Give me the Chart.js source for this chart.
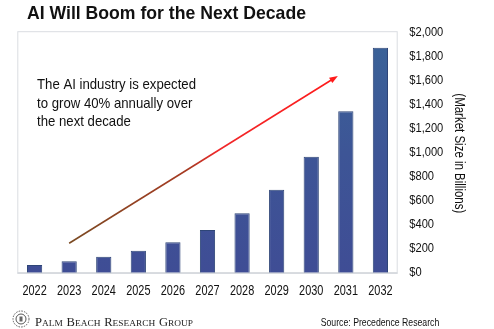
<!DOCTYPE html>
<html>
<head>
<meta charset="utf-8">
<script src="https://cdn.jsdelivr.net/npm/chart.js@4/dist/chart.umd.min.js"></script>
<style>
html,body{margin:0;padding:0;background:#fff;}
#wrap{position:relative;width:494px;height:329px;}
</style>
</head>
<body>
<div id="wrap"><canvas id="c" width="494" height="329"></canvas></div>
<script>
const years = ['2022','2023','2024','2025','2026','2027','2028','2029','2030','2031','2032'];
const marketSize = [64, 95, 133, 183, 253, 356, 495, 692, 967, 1345, 1875];
const yTicks = [0,200,400,600,800,1000,1200,1400,1600,1800,2000];
const titleText = 'AI Will Boom for the Next Decade';
const noteLines = ['The AI industry is expected','to grow 40% annually over','the next decade'];
const axisTitle = '(Market Size in Billions)';
const sourceText = 'Source: Precedence Research';
const brandWords = ['Palm','Beach','Research','Group'];
// arrow in data space: [category index, value]
const arrowFrom = [1, 245];
const arrowTo = [8.77, 1640];

const SANS = '"Liberation Sans", Arial, sans-serif';
const SERIF = '"Liberation Serif", "Times New Roman", serif';

// draw text horizontally condensed by factor s
function drawText(ctx, text, x, y, s, align) {
  ctx.save();
  const w = ctx.measureText(text).width * s;
  let left = x;
  if (align === 'center') left = x - w / 2;
  else if (align === 'right') left = x - w;
  ctx.translate(left, y);
  ctx.scale(s, 1);
  ctx.textAlign = 'left';
  ctx.fillText(text, 0, 0);
  ctx.restore();
}
function fitScale(ctx, text, target) { return target / ctx.measureText(text).width; }

const deco = {
  id: 'deco',
  beforeDraw(chart) {
    const {ctx, chartArea: a} = chart;
    ctx.save();
    ctx.strokeStyle = '#dadde2';
    ctx.lineWidth = 1;
    ctx.strokeRect(a.left + 0.5, a.top - 1, a.right - a.left - 1, a.bottom - a.top + 1);
    ctx.strokeStyle = '#c9cdd3';
    ctx.beginPath(); ctx.moveTo(a.left, a.bottom + 0.5); ctx.lineTo(a.right, a.bottom + 0.5); ctx.stroke();
    ctx.restore();
  },
  afterDraw(chart) {
    const {ctx, scales: {x, y}} = chart;
    ctx.save();
    ctx.fillStyle = '#111';
    ctx.textBaseline = 'alphabetic';
    // title
    ctx.font = 'bold 18.5px ' + SANS;
    drawText(ctx, titleText, 27, 18.5, fitScale(ctx, titleText, 279), 'left');
    // note text
    ctx.font = '15px ' + SANS;
    const ns = fitScale(ctx, noteLines[0], 159);
    const nb = [89, 107.8, 126.4];
    noteLines.forEach((l, i) => drawText(ctx, l, 37, nb[i], ns, 'left'));
    // x tick labels
    ctx.font = '14.5px ' + SANS;
    const xs = fitScale(ctx, '2022', 24.3);
    years.forEach((yr, i) => drawText(ctx, yr, x.getPixelForValue(i), 294.5, xs, 'center'));
    // y tick labels
    ctx.font = '13px ' + SANS;
    ctx.textBaseline = 'middle';
    const ys = fitScale(ctx, '$2,000', 34);
    yTicks.forEach(v => drawText(ctx, '$' + v.toLocaleString('en-US'), 409.3, y.getPixelForValue(v), ys, 'left'));
    // axis title rotated
    ctx.save();
    ctx.translate(458.5, 153.3);
    ctx.rotate(Math.PI / 2);
    ctx.font = '14px ' + SANS;
    drawText(ctx, axisTitle, 0, 0, fitScale(ctx, axisTitle, 120), 'center');
    ctx.restore();
    ctx.textBaseline = 'alphabetic';
    // arrow
    const x0 = x.getPixelForValue(arrowFrom[0]), y0 = y.getPixelForValue(arrowFrom[1]);
    const x1 = x.getPixelForValue(arrowTo[0]), y1 = y.getPixelForValue(arrowTo[1]);
    const g = ctx.createLinearGradient(x0, y0, x1, y1);
    g.addColorStop(0, '#7a4a22');
    g.addColorStop(0.45, '#a83a22');
    g.addColorStop(0.55, '#f0282a');
    g.addColorStop(1, '#ff1a1a');
    const ang = Math.atan2(y1 - y0, x1 - x0);
    const hl = 9;
    ctx.strokeStyle = g;
    ctx.lineWidth = 1.6;
    ctx.beginPath();
    ctx.moveTo(x0, y0);
    ctx.lineTo(x1 - Math.cos(ang) * hl * 0.8, y1 - Math.sin(ang) * hl * 0.8);
    ctx.stroke();
    ctx.fillStyle = '#ff1a1a';
    ctx.beginPath();
    ctx.moveTo(x1, y1);
    ctx.lineTo(x1 - hl * Math.cos(ang - 0.35), y1 - hl * Math.sin(ang - 0.35));
    ctx.lineTo(x1 - hl * Math.cos(ang + 0.35), y1 - hl * Math.sin(ang + 0.35));
    ctx.closePath();
    ctx.fill();
    // source
    ctx.fillStyle = '#111';
    ctx.font = '11.5px ' + SANS;
    drawText(ctx, sourceText, 320.7, 326, fitScale(ctx, sourceText, 118.6), 'left');
    // brand (small caps serif), fitted to width
    const big = '11.7px ' + SERIF, small = '8.7px ' + SERIF, gap = 3.5;
    let total = 0;
    brandWords.forEach((w, i) => {
      ctx.font = big; total += ctx.measureText(w[0]).width;
      ctx.font = small; total += ctx.measureText(w.slice(1).toUpperCase()).width;
      if (i < brandWords.length - 1) total += gap;
    });
    const bs = 158 / total;
    ctx.save();
    ctx.translate(35, 325.5);
    ctx.scale(bs, 1);
    ctx.fillStyle = '#222';
    let bx = 0;
    brandWords.forEach((w) => {
      ctx.font = big; ctx.fillText(w[0], bx, 0); bx += ctx.measureText(w[0]).width;
      const rest = w.slice(1).toUpperCase();
      ctx.font = small; ctx.fillText(rest, bx, 0); bx += ctx.measureText(rest).width + gap;
    });
    ctx.restore();
    // logo seal
    const cx = 21, cy = 319;
    ctx.strokeStyle = '#555';
    ctx.lineWidth = 1;
    ctx.setLineDash([1.5, 1.2]);
    ctx.beginPath(); ctx.arc(cx, cy, 8, 0, Math.PI * 2); ctx.stroke();
    ctx.setLineDash([]);
    ctx.beginPath(); ctx.arc(cx, cy, 5, 0, Math.PI * 2); ctx.stroke();
    ctx.fillStyle = '#666';
    ctx.fillRect(cx - 1.5, cy - 2.5, 3, 5);
    ctx.restore();
  }
};

new Chart(document.getElementById('c'), {
  type: 'bar',
  data: {
    labels: years,
    datasets: [{
      data: marketSize,
      backgroundColor: (c) => {
        const ch = c.chart, a = ch.chartArea;
        if (!a) return '#3b5b98';
        const g = ch.ctx.createLinearGradient(0, a.bottom, 0, a.top);
        g.addColorStop(0, '#3f4d95');
        g.addColorStop(0.5, '#3d5596');
        g.addColorStop(1, '#3a6398');
        return g;
      },
      borderColor: '#2e4577',
      borderWidth: 1,
      barPercentage: 0.44,
      categoryPercentage: 1
    }]
  },
  options: {
    responsive: false,
    animation: false,
    events: [],
    layout: { padding: { top: 32.7, left: 17.3, right: 96.3, bottom: 56.3 } },
    plugins: { legend: { display: false }, title: { display: false }, tooltip: { enabled: false } },
    scales: {
      x: { display: false, grid: { display: false } },
      y: { display: false, min: 0, max: 2000, grid: { display: false } }
    }
  },
  plugins: [deco]
});
</script>
</body>
</html>
